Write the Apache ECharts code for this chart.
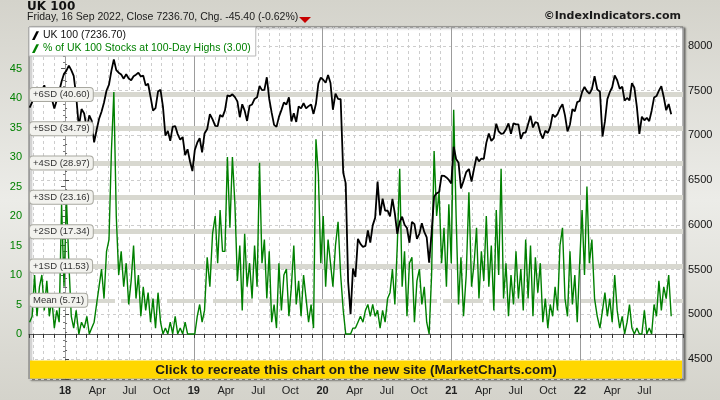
<!DOCTYPE html>
<html>
<head>
<meta charset="utf-8">
<script src="https://cdn.jsdelivr.net/npm/echarts@6.0.0/dist/echarts.min.js"></script>
<style>
html,body{margin:0;padding:0;background:#e0e0da;}
#chart{width:720px;height:400px;}
</style>
</head>
<body>
<div id="chart"></div>
<script>
// ---- data (weekly Friday samples, first = 2017-09-22, last = 2022-09-16) ----
const firstWeek = [2017, 8, 22];

const ukClose2017 = [7310,7373,7522,7535,7523,7505,7560,7433,7380,7409,7300,7394,7490,7603,7688];
const ukClose2018 = [7724,7780,7730,7666,7443,7092,7294,7244,7069,7224,7164,6922,7057,7183,7265,7368,7502,7567,7724,7850,7730,7701,7681,7634,7683,7637,7617,7661,7679,7701,7659,7667,7559,7577,7432,7277,7304,7490,7510,7318,6996,7050,6940,7094,7105,7014,6953,6980,6778,6845,6711,6600];
const ukClose2019 = [6837,6918,6968,6809,7020,7071,7237,7178,7106,7104,7228,7207,7279,7447,7437,7459,7428,7380,7203,7348,7277,7161,7331,7346,7407,7425,7553,7506,7508,7650,7407,7254,7117,7095,7207,7282,7367,7345,7426,7155,7247,7150,7324,7302,7359,7302,7327,7346,7240,7353,7582,7645];
const ukClose2020 = [7622,7588,7675,7586,7286,7467,7409,7404,6581,6463,5366,5000,5510,5416,5843,5787,5752,5763,5936,5800,5993,6077,6484,6105,6292,6159,6157,6095,6290,6124,5898,6032,6090,6001,5964,5799,6032,6007,5843,5902,6017,5920,5860,5577,5910,6316,6351,6367,6550,6547,6529,6502];
const ukClose2021 = [6461,6873,6736,6695,6407,6489,6589,6624,6483,6631,6761,6709,6741,6737,6916,7020,6938,6970,7130,7044,7018,7023,7069,7134,7017,7136,7123,7122,6960,7028,7032,7123,7218,7088,7148,7138,7029,6964,7051,7027,7095,7234,7205,7237,7304,7348,7223,7044,7122,7292,7270,7372,7385];
const ukClose2022 = [7485,7543,7494,7466,7516,7661,7513,7489,6987,7156,7405,7483,7538,7670,7616,7522,7545,7388,7418,7390,7585,7533,7318,7016,7209,7169,7196,7159,7276,7423,7440,7501,7550,7427,7281,7351,7237];

const highs2017 = [2,3,10,3,8,10,4,9,3,6,1,4,2,22,8];
const highs2018 = [23,12,3,1,4,0,2,1,3,0,1,2,5,8,11,6,14,16,31,41,20,10,14,8,12,5,9,15,6,10,3,8,4,7,2,6,1,7,2,0,1,0,2,0,3,0,1,0,2,0,0,0];
const highs2019 = [0,3,5,2,4,13,8,17,20,12,21,14,14,30,18,30,22,9,15,4,17,8,12,6,15,8,29,12,16,6,14,2,5,1,12,4,10,11,3,8,15,5,9,3,10,6,2,5,1,33,27,12];
const highs2020 = [20,8,16,12,8,15,19,10,4,0,0,0,1,1,2,3,2,4,5,3,5,3,4,1,4,2,6,7,11,5,15,28,8,14,3,12,13,2,9,11,5,8,2,0,10,31,20,24,12,18,8,22];
const highs2021 = [12,38,20,5,13,3,10,24,8,12,18,6,14,9,20,8,15,4,21,10,28,6,12,3,10,5,14,6,11,4,16,6,15,3,13,7,12,2,6,1,5,3,8,4,15,18,6,3,14,5,10,2,12];
const highs2022 = [21,10,25,12,16,6,3,1,4,7,3,6,2,10,4,1,3,0,2,5,1,0,1,0,0,4,0,1,0,5,3,9,4,8,6,10,3];

const sdLevels = [40.60, 34.79, 28.97, 23.16, 17.34, 11.53, 5.71];
const sdLabels = ['+6SD (40.60)', '+5SD (34.79)', '+4SD (28.97)', '+3SD (23.16)', '+2SD (17.34)', '+1SD (11.53)', 'Mean (5.71)'];

const monthLabels = {3: 'Apr', 6: 'Jul', 9: 'Oct'};
const labelMonthRange = [0, 54];   // months (from Jan 2018) that carry a label
const leftTickLabels = [0, 5, 10, 15, 20, 25, 30, 35, 40, 45];
const rightTickLabels = [4500, 5000, 5500, 6000, 6500, 7000, 7500, 8000];

const titleText = 'UK 100';
const subtitleText = 'Friday, 16 Sep 2022, Close 7236.70, Chg. -45.40 (-0.62%)';
const copyrightText = '\u00A9IndexIndicators.com';
const bannerText = 'Click to recreate this chart on the new site (MarketCharts.com)';
const nameClose = 'UK 100 (7236.70)';
const nameHighs = '% of UK 100 Stocks at 100-Day Highs (3.00)';

// ---- build ----
const closes = [].concat(ukClose2017, ukClose2018, ukClose2019, ukClose2020, ukClose2021, ukClose2022);
const highs = [].concat(highs2017, highs2018, highs2019, highs2020, highs2021, highs2022);
const t0 = Date.UTC(firstWeek[0], firstWeek[1], firstWeek[2]);
// x unit: months since 1 Jan 2018
function monthPos(t) {
  const d = new Date(t);
  const y = d.getUTCFullYear(), m = d.getUTCMonth();
  const dim = new Date(Date.UTC(y, m + 1, 0)).getUTCDate();
  return (y - 2018) * 12 + m + (d.getUTCDate() - 1) / dim;
}
const xs = closes.map((_, i) => monthPos(t0 + i * 7 * 86400000));
const X_MIN = -3.36, X_MAX = 57.6;

const FONT = "'Liberation Sans', Arial, sans-serif";
const GREEN = '#008000';

const chart = echarts.init(document.getElementById('chart'), null, {renderer: 'canvas'});
const option = {
  animation: false,
  backgroundColor: {
    type: 'linear', x: 0, y: 0, x2: 0, y2: 1,
    colorStops: [{offset: 0, color: '#d4d3cb'}, {offset: 0.5, color: '#ecece8'}, {offset: 1, color: '#d4d3cb'}]
  },
  title: [
    {text: titleText, left: 27, top: 0, padding: [1, 0, 0, 0],
     textStyle: {fontFamily: "'DejaVu Sans', sans-serif", fontWeight: 'bold', fontSize: 12, color: '#111'}},
    {text: subtitleText, left: 27, top: 12, padding: 0,
     textStyle: {fontFamily: FONT, fontWeight: 'normal', fontSize: 10.5, color: '#1a1a1a'}},
    {text: copyrightText, right: 39, top: 11, padding: 0,
     textStyle: {fontFamily: "'DejaVu Sans', sans-serif", fontWeight: 'bold', fontSize: 11, color: '#1a1a1a'}}
  ],
  legend: {
    orient: 'vertical', left: 29, top: 27, itemGap: 2, itemWidth: 7, itemHeight: 10,
    padding: [3, 5, 2, 3], backgroundColor: '#ffffff', borderColor: '#b8b8b8', borderWidth: 1,
    selectedMode: false,
    icon: 'path://M5,0 L8,0 L3,10 L0,10 Z',
    textStyle: {fontFamily: FONT, fontSize: 10.5, padding: [0, 0, 0, -1]},
    data: [
      {name: nameClose, textStyle: {color: '#111'}, itemStyle: {color: '#000'}},
      {name: nameHighs, textStyle: {color: GREEN}, itemStyle: {color: GREEN}}
    ]
  },
  grid: {
    left: 29, right: 37, top: 27, bottom: 21, show: true,
    backgroundColor: '#ffffff', borderColor: '#6e6e6e', borderWidth: 1,
    shadowColor: 'rgba(0,0,0,0.5)', shadowBlur: 2, shadowOffsetX: 2, shadowOffsetY: 1
  },
  xAxis: [
    {
      type: 'value', min: X_MIN, max: X_MAX, splitNumber: 61, minInterval: 1, maxInterval: 1,
      axisLine: {show: true, lineStyle: {color: '#555'}},
      axisTick: {show: true, length: 4, lineStyle: {color: '#333'}},
      axisLabel: {
        margin: 6, fontFamily: FONT, fontSize: 11, color: '#222',
        formatter: function (v) {
          const r = Math.round(v);
          if (Math.abs(v - r) > 1e-6) return '';
          if (r < labelMonthRange[0] || r > labelMonthRange[1]) return '';
          const mm = ((r % 12) + 12) % 12;
          if (mm === 0) return '{y|' + (18 + r / 12) + '}';
          return monthLabels[mm] || '';
        },
        rich: {y: {fontFamily: FONT, fontSize: 11, fontWeight: 'bold', color: '#222'}}
      },
      splitLine: {show: true, lineStyle: {color: '#cdcdcd', type: [3, 3], width: 1}}
    },
    {
      type: 'value', min: X_MIN, max: X_MAX, splitNumber: 5, minInterval: 12, maxInterval: 12,
      axisLine: {show: false}, axisTick: {show: false}, axisLabel: {show: false},
      splitLine: {show: true, lineStyle: {color: '#9c9c9c', width: 1}}
    }
  ],
  yAxis: [
    {
      type: 'value', position: 'left', min: -7.63, max: 52.03, splitNumber: 12, minInterval: 5, maxInterval: 5,
      axisLine: {show: false},
      axisTick: {show: true, length: 4, lineStyle: {color: '#555'}},
      minorTick: {show: true, splitNumber: 5, length: 2, lineStyle: {color: '#777'}},
      axisLabel: {
        margin: 7, fontFamily: FONT, fontSize: 11, color: GREEN,
        formatter: v => leftTickLabels.indexOf(Math.round(v * 1000) / 1000) >= 0 ? String(Math.round(v)) : ''
      },
      splitLine: {show: false}
    },
    {
      type: 'value', position: 'right', min: 4275, max: 8212, splitNumber: 8, minInterval: 500, maxInterval: 500,
      axisLine: {show: false},
      axisTick: {show: true, length: 4, lineStyle: {color: '#444'}},
      minorTick: {show: true, splitNumber: 5, length: 2, lineStyle: {color: '#666'}},
      axisLabel: {
        margin: 5, fontFamily: FONT, fontSize: 11, color: '#111',
        formatter: v => rightTickLabels.indexOf(Math.round(v)) >= 0 && Math.abs(v - Math.round(v)) < 1e-6 ? String(Math.round(v)) : ''
      },
      splitLine: {show: true, lineStyle: {color: '#cdcdcd', type: [3, 3], width: 1}}
    }
  ],
  series: [
    {
      name: nameHighs, type: 'line', xAxisIndex: 0, yAxisIndex: 0,
      data: xs.map((x, i) => [x, highs[i]]),
      symbol: 'none', showSymbol: false,
      lineStyle: {color: GREEN, width: 1.4}, itemStyle: {color: GREEN},
      z: 3,
      markLine: {
        silent: true, symbol: 'none', z: 1, animation: false,
        label: {show: false},
        lineStyle: {color: '#d8d8d0', width: 5, type: 'solid'},
        data: sdLevels.map((v, i) => (i === sdLevels.length - 1
          ? {yAxis: v, lineStyle: {type: [40, 6], color: '#d8d8d0', width: 4}}
          : {yAxis: v}))
      }
    },
    {
      name: nameClose, type: 'line', xAxisIndex: 0, yAxisIndex: 1,
      data: xs.map((x, i) => [x, closes[i]]),
      symbol: 'none', showSymbol: false,
      lineStyle: {color: '#000', width: 1.8}, itemStyle: {color: '#000'},
      z: 4
    },
    {
      name: 'sdLabels', type: 'line', xAxisIndex: 0, yAxisIndex: 0, data: [],
      z: 6,
      markLine: {
        silent: true, symbol: 'none', z: 6, animation: false,
        lineStyle: {color: 'rgba(0,0,0,0)', width: 0},
        label: {
          show: true, position: 'insideStart', distance: [1, 0], formatter: '{b}',
          fontFamily: FONT, fontSize: 9.5, color: '#333',
          backgroundColor: '#f2f2ee', borderColor: '#a8a8a0', borderWidth: 1, borderRadius: 3,
          padding: [2, 3, 1, 3]
        },
        data: sdLevels.map((v, i) => ({yAxis: v, name: sdLabels[i]}))
      }
    }
  ],
  graphic: [
    {type: 'polygon', z: 10, shape: {points: [[299, 17], [311, 17], [305, 23]]}, style: {fill: '#c80000'}},
    {type: 'rect', z: 5, shape: {x: 30, y: 360.5, width: 652, height: 18}, style: {fill: '#ffd700'}},
    {type: 'text', z: 6, x: 356, y: 370, style: {text: bannerText, fill: '#1a1a1a', font: "bold 13.5px 'Liberation Sans', Arial, sans-serif", textAlign: 'center', textVerticalAlign: 'middle'}}
  ]
};
chart.setOption(option);
</script>
</body>
</html>
